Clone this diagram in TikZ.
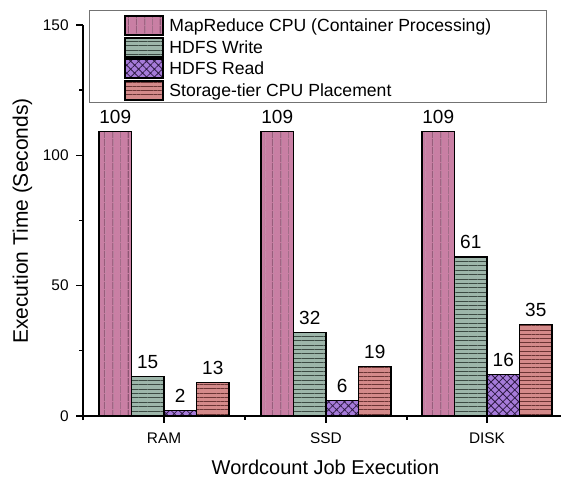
\documentclass[tikz,border=0pt]{standalone}
\usepackage{fontspec}
\setmainfont{Liberation Sans}
\usepackage{tikz}
\usetikzlibrary{patterns.meta}

\definecolor{cpupink}{HTML}{C97FA4}
\definecolor{cpuline}{HTML}{5A2E47}
\definecolor{wrgreen}{HTML}{9DB6AA}
\definecolor{wrline}{HTML}{3C4A43}
\definecolor{rdpurple}{HTML}{A67BD9}
\definecolor{rdline}{HTML}{2E1A45}
\definecolor{stred}{HTML}{D48A8A}
\definecolor{stline}{HTML}{6A3434}

\tikzset{
  cpubar/.style={preaction={fill=cpupink}, pattern={Lines[angle=90,distance=4pt,line width=0.4pt]}, pattern color=cpuline, draw=black, line width=0.6pt},
  wrbar/.style={preaction={fill=wrgreen}, pattern={Lines[angle=0,distance=2.2pt,line width=0.4pt]}, pattern color=wrline, draw=black, line width=0.6pt},
  rdbar/.style={preaction={fill=rdpurple}, pattern={Hatch[angle=45,distance=2.8pt,line width=0.4pt]}, pattern color=rdline, draw=black, line width=0.6pt},
  stbar/.style={preaction={fill=stred}, pattern={Lines[angle=0,distance=2.1pt,line width=0.4pt]}, pattern color=stline, draw=black, line width=0.6pt},
  val/.style={anchor=base, inner sep=0pt, font=\fontsize{9.5}{11}\selectfont},
  tick/.style={font=\fontsize{7.7}{9}\selectfont},
  legtext/.style={anchor=base west, inner sep=0pt, font=\fontsize{8.8}{10}\selectfont}
}

\begin{document}
\begin{tikzpicture}[x=0.5pt, y=0.5pt]
\useasboundingbox (-83,-61) rectangle (478,416);

% bars, in data units
\begin{scope}[y=1.3035pt]
\draw [cpubar] (16,0) rectangle (48.5,109);
\draw [wrbar] (48.5,0) rectangle (81,15);
\draw [rdbar] (81,0) rectangle (113.5,2);
\draw [stbar] (113.5,0) rectangle (146,13);

\draw [cpubar] (178,0) rectangle (210.5,109);
\draw [wrbar] (210.5,0) rectangle (243,32);
\draw [rdbar] (243,0) rectangle (275.5,6);
\draw [stbar] (275.5,0) rectangle (308,19);

\draw [cpubar] (339,0) rectangle (371.5,109);
\draw [wrbar] (371.5,0) rectangle (404,61);
\draw [rdbar] (404,0) rectangle (436.5,16);
\draw [stbar] (436.5,0) rectangle (469,35);

\node [val, yshift=4pt] (ram-cpu) at (32.25,109) {109};
\node [val, yshift=4pt] (ram-wr) at (64.75,15) {15};
\node [val, yshift=4pt] (ram-rd) at (97.25,2) {2};
\node [val, yshift=4pt] (ram-st) at (129.75,13) {13};

\node [val, yshift=4pt] (ssd-cpu) at (194.25,109) {109};
\node [val, yshift=4pt] (ssd-wr) at (226.75,32) {32};
\node [val, yshift=4pt] (ssd-rd) at (259.25,6) {6};
\node [val, yshift=4pt] (ssd-st) at (291.75,19) {19};

\node [val, yshift=4pt] (disk-cpu) at (355.25,109) {109};
\node [val, yshift=4pt] (disk-wr) at (387.75,61) {61};
\node [val, yshift=4pt] (disk-rd) at (420.25,16) {16};
\node [val, yshift=4pt] (disk-st) at (452.75,35) {35};
\end{scope}

% axes
\draw [line width=0.6pt] (0,-4) -- (0,391);
\draw [line width=0.6pt] (0,0) -- (478,0);

\draw [line width=0.6pt] (-7,0) -- (0,0);
\draw [line width=0.6pt] (-4,65.2) -- (0,65.2);
\draw [line width=0.6pt] (-7,130.35) -- (0,130.35);
\draw [line width=0.6pt] (-4,195.5) -- (0,195.5);
\draw [line width=0.6pt] (-7,260.7) -- (0,260.7);
\draw [line width=0.6pt] (-4,325.9) -- (0,325.9);
\draw [line width=0.6pt] (-7,391.05) -- (0,391.05);

\node [tick, anchor=east, inner sep=1pt] (y0) at (-12,0) {0};
\node [tick, anchor=east, inner sep=1pt] (y50) at (-12,130.35) {50};
\node [tick, anchor=east, inner sep=1pt] (y100) at (-12,260.7) {100};
\node [tick, anchor=east, inner sep=1pt] (y150) at (-12,391.05) {150};

\draw [line width=0.6pt] (81,0) -- (81,-7);
\draw [line width=0.6pt] (162,0) -- (162,-4);
\draw [line width=0.6pt] (243,0) -- (243,-7);
\draw [line width=0.6pt] (324,0) -- (324,-4);
\draw [line width=0.6pt] (404,0) -- (404,-7);

\node [tick, anchor=base, inner sep=0pt] (ram) at (81,-27) {RAM};
\node [tick, anchor=base, inner sep=0pt] (ssd) at (243,-27) {SSD};
\node [tick, anchor=base, inner sep=0pt] (disk) at (404,-27) {DISK};

\node [anchor=base, inner sep=0pt, font=\fontsize{10}{12}\selectfont] (xlabel) at (242.5,-58) {Wordcount Job Execution};
\node [anchor=base, inner sep=0pt, rotate=90, font=\fontsize{10.5}{12}\selectfont] (ylabel) at (-55,195) {Execution Time (Seconds)};

% legend
\draw [draw=black!55, line width=0.5pt, fill=white] (6,313) rectangle (463,405);

\draw [cpubar] (42,381) rectangle (80,400);
\draw [wrbar] (42,359) rectangle (80,378);
\draw [rdbar] (42,338) rectangle (80,357);
\draw [stbar] (42,316) rectangle (80,335);

\node [legtext] (leg-cpu) at (86,384.5) {MapReduce CPU (Container Processing)};
\node [legtext] (leg-wr) at (86,362.5) {HDFS Write};
\node [legtext] (leg-rd) at (86,341.5) {HDFS Read};
\node [legtext] (leg-st) at (86,319.5) {Storage-tier CPU Placement};

\end{tikzpicture}
\end{document}
